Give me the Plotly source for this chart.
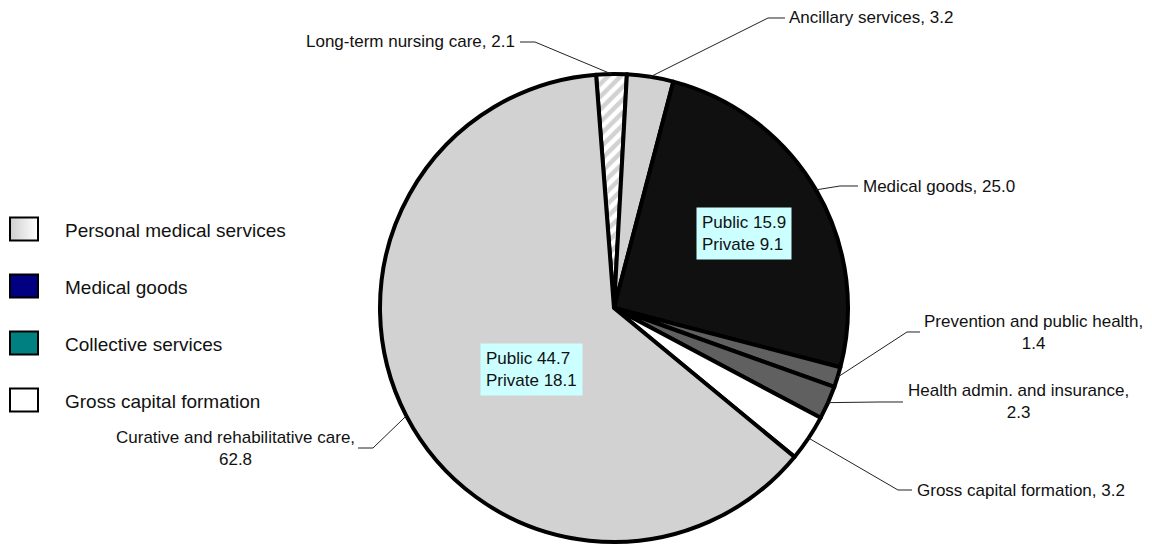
import math
import plotly.graph_objects as go

# ---------------- data ----------------
categories = [
    "Long-term nursing care",
    "Ancillary services",
    "Medical goods",
    "Prevention and public health",
    "Health admin. and insurance",
    "Gross capital formation",
    "Curative and rehabilitative care",
]
values = [2.1, 3.2, 25.0, 1.4, 2.3, 3.2, 62.8]
slice_colors = ["#D2D2D2", "#D2D2D2", "#101010", "#606060", "#606060", "#FFFFFF", "#D2D2D2"]
slice_patterns = ["/", "", "", "", "", "", ""]

public_values = [15.9, 44.7]
private_values = [9.1, 18.1]
split_categories = ["Medical goods", "Curative and rehabilitative care"]

legend_names = ["Personal medical services", "Medical goods", "Collective services", "Gross capital formation"]
legend_colors = ["#E0E0E0", "#000080", "#008080", "#FFFFFF"]

# ---------------- layout geometry ----------------
# The page body has an 8px margin, so the figure is drawn 8px smaller and
# all positions below are given in window pixels and shifted by OFF.
WIN_W, WIN_H = 1152, 547
OFF = 8
W, H = WIN_W - OFF, WIN_H - OFF
CX, CY, R = 614, 308, 234
ROT = -4.4
FONT = "Liberation Sans, Arial, sans-serif"


def P(x, y):
    return (x - OFF) / W, 1 - (y - OFF) / H


def edge_point(i):
    total = sum(values)
    cum = sum(values[:i])
    mid = math.radians(ROT + 360 * (cum + values[i] / 2) / total)
    return CX + R * math.sin(mid), CY - R * math.cos(mid)


fig = go.Figure()
x0, y1 = P(CX - R, CY - R)
x1, y0 = P(CX + R, CY + R)
fig.add_trace(go.Pie(
    labels=categories,
    values=values,
    sort=False,
    direction="clockwise",
    rotation=ROT,
    textinfo="none",
    hoverinfo="label+value",
    showlegend=False,
    domain=dict(x=[x0, x1], y=[y0, y1]),
    marker=dict(
        colors=slice_colors,
        line=dict(color="black", width=4),
        pattern=dict(shape=slice_patterns, fillmode="overlay", fgcolor="white",
                     fgopacity=1, size=9, solidity=0.5),
    ),
))

# label placement (window px)
label_layout = {
    "Long-term nursing care": dict(pos=(517, 42), xanchor="right", elbow=(535, 42), end=(520, 42), br=False),
    "Ancillary services": dict(pos=(787, 18), xanchor="left", elbow=(768, 18), end=(785, 18), br=False),
    "Medical goods": dict(pos=(861, 186), xanchor="left", elbow=(840, 186), end=(858, 186), br=False),
    "Prevention and public health": dict(pos=(1033, 332), xanchor="center", elbow=(907, 332), end=(920, 332), br=True),
    "Health admin. and insurance": dict(pos=(1018, 401), xanchor="center", elbow=(880, 402), end=(903, 402), br=True),
    "Gross capital formation": dict(pos=(915, 490), xanchor="left", elbow=(898, 490), end=(912, 490), br=False),
    "Curative and rehabilitative care": dict(pos=(235, 448), xanchor="center", elbow=(373, 448), end=(358, 448), br=True),
}

shapes = []
annotations = []
for i, name in enumerate(categories):
    cfg = label_layout[name]
    ex, ey = edge_point(i)
    pts = [P(ex, ey), P(*cfg["elbow"]), P(*cfg["end"])]
    path = "M {:.5f},{:.5f} L {:.5f},{:.5f} L {:.5f},{:.5f}".format(
        pts[0][0], pts[0][1], pts[1][0], pts[1][1], pts[2][0], pts[2][1])
    shapes.append(dict(type="path", path=path, xref="paper", yref="paper",
                       line=dict(color="#222222", width=1)))
    sep = ",<br>" if cfg["br"] else ", "
    tx, ty = P(*cfg["pos"])
    annotations.append(dict(
        text=f"{name}{sep}{values[i]:.1f}", x=tx, y=ty, xref="paper", yref="paper",
        xanchor=cfg["xanchor"], yanchor="middle", showarrow=False, align="center",
        font=dict(family=FONT, size=17, color="#111111"),
    ))

# public / private boxes
box_pos = {"Medical goods": (744, 233), "Curative and rehabilitative care": (531, 369)}
for name, pub, priv in zip(split_categories, public_values, private_values):
    bx, by = P(*box_pos[name])
    annotations.append(dict(
        text=f"Public {pub:.1f}<br>Private {priv:.1f}", x=bx, y=by, xref="paper", yref="paper",
        xanchor="center", yanchor="middle", showarrow=False, align="left",
        bgcolor="#CCFFFF", borderpad=5,
        font=dict(family=FONT, size=17, color="#111111"),
    ))

# custom legend
leg_y = [229, 286, 343, 400]
for j, (lname, lcol) in enumerate(zip(legend_names, legend_colors)):
    yc = leg_y[j]
    a0, b0 = P(10, yc + 11.5)
    a1, b1 = P(38, yc - 11.5)
    if j == 0:
        nstrip = 14
        for k in range(nstrip):
            g = int(0xD0 + (0xFF - 0xD0) * k / (nstrip - 1))
            col = f"rgb({g},{g},{g})"
            s0, _ = P(10 + 28 * k / nstrip, yc)
            s1, _ = P(10 + 28 * (k + 1) / nstrip, yc)
            shapes.append(dict(type="rect", xref="paper", yref="paper", x0=s0, x1=s1, y0=b0, y1=b1,
                               fillcolor=col, line=dict(width=0)))
        shapes.append(dict(type="rect", xref="paper", yref="paper", x0=a0, x1=a1, y0=b0, y1=b1,
                           fillcolor="rgba(0,0,0,0)", line=dict(color="black", width=2)))
    else:
        shapes.append(dict(type="rect", xref="paper", yref="paper", x0=a0, x1=a1, y0=b0, y1=b1,
                           fillcolor=lcol, line=dict(color="black", width=2)))
    tx, ty = P(63, yc + 1)
    annotations.append(dict(
        text=lname, x=tx, y=ty, xref="paper", yref="paper", xanchor="left", yanchor="middle",
        showarrow=False, font=dict(family=FONT, size=19, color="#111111"),
    ))

fig.update_layout(
    width=W, height=H,
    margin=dict(l=0, r=0, t=0, b=0),
    paper_bgcolor="white", plot_bgcolor="white",
    shapes=shapes, annotations=annotations,
    showlegend=False,
)

fig.write_html("out.html")
